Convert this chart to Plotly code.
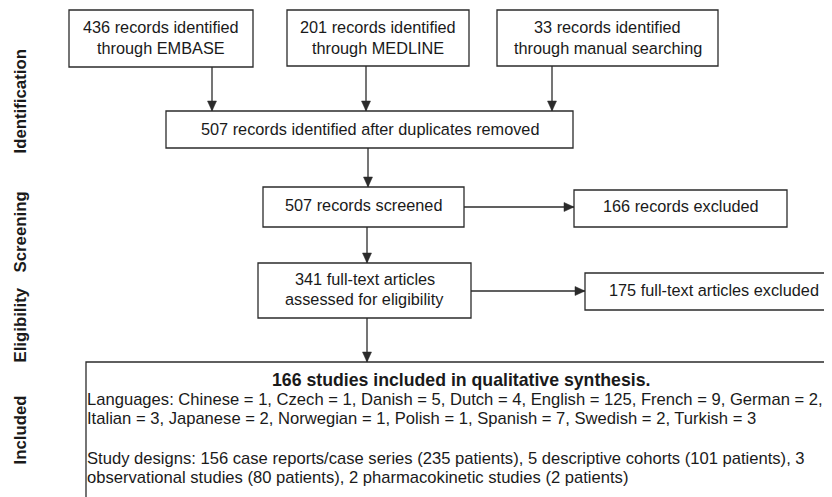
import plotly.graph_objects as go

# ---- content (data) ----
source_counts = [436, 201, 33]
source_names = ["EMBASE", "MEDLINE", "manual searching"]
after_dupes = 507
screened = 507
excluded_records = 166
fulltext_assessed = 341
fulltext_excluded = 175
included_studies = 166
languages = ["Chinese", "Czech", "Danish", "Dutch", "English", "French", "German",
             "Italian", "Japanese", "Norwegian", "Polish", "Spanish", "Swedish", "Turkish"]
language_counts = [1, 1, 5, 4, 125, 9, 2, 3, 2, 1, 1, 7, 2, 3]
stage_labels = ["Identification", "Screening", "Eligibility", "Included"]

# ---- layout geometry (positions, not data) ----
W, H = 832, 497
OFF = 8  # page body margin
FONT = "Liberation Sans, Arial, sans-serif"
LINE = "#2b2b2b"
TXT = "#1a1a1a"
BOXF = 16.3
BODYF = 16.6

fig = go.Figure()
shapes = []
annos = []

def box(x0, y0, x1, y1):
    shapes.append(dict(type="rect", xref="x", yref="y", x0=x0, y0=y0, x1=x1, y1=y1,
                       line=dict(color=LINE, width=1.3), fillcolor="rgba(0,0,0,0)"))

def text(x, y, s, size=BOXF, bold=False, anchor="center"):
    if bold:
        s = "<b>" + s + "</b>"
    annos.append(dict(x=x, y=y, xref="x", yref="y", text=s, showarrow=False,
                      xanchor=anchor, yanchor="middle",
                      font=dict(family=FONT, size=size, color=TXT)))

def arrow(x0, y0, x1, y1):
    shapes.append(dict(type="line", xref="x", yref="y", x0=x0, y0=y0, x1=x1, y1=y1,
                       line=dict(color=LINE, width=1.3)))
    L, hw = 10, 4.5
    if x0 == x1:  # vertical down
        p = f"M{x1-hw},{y1-L} L{x1+hw},{y1-L} L{x1},{y1} Z"
    else:  # horizontal right
        p = f"M{x1-L},{y1-hw} L{x1-L},{y1+hw} L{x1},{y1} Z"
    shapes.append(dict(type="path", xref="x", yref="y", path=p,
                       fillcolor=LINE, line=dict(color=LINE, width=0.5)))

# top source boxes
src_boxes = [(69, 10, 253, 67), (287, 10, 469, 66), (497, 10, 718, 66)]
src_arrow_x = [212, 366, 552]
for (x0, y0, x1, y1), n, name, ax in zip(src_boxes, source_counts, source_names, src_arrow_x):
    box(x0, y0, x1, y1)
    cx = (x0 + x1) / 2
    text(cx, 27, f"{n} records identified")
    text(cx, 48, f"through {name}")
    arrow(ax, y1, ax, 111)

# duplicates removed
box(166, 111, 573, 148)
text(369.5, 129, f"{after_dupes} records identified after duplicates removed")
arrow(368, 148, 368, 187)

# screened
box(263, 187, 464, 227)
text(363.5, 205, f"{screened} records screened")
arrow(464, 207, 574, 207)
box(574, 190, 787, 227)
text(681, 206, f"{excluded_records} records excluded")
arrow(367, 227, 367, 263)

# eligibility
box(258, 263, 471, 318)
text(364.5, 279, f"{fulltext_assessed} full-text articles")
text(364.5, 299, "assessed for eligibility")
arrow(471, 291, 585, 291)
box(585, 273, 845, 310)
text(714, 290, f"{fulltext_excluded} full-text articles excluded")
arrow(367, 318, 367, 362)

# included
box(86, 362, 845, 510)
text(461, 380, f"{included_studies} studies included in qualitative synthesis.", size=17.7, bold=True)
lang_items = [f"{l} = {c}" for l, c in zip(languages, language_counts)]
line1 = "Languages: " + ", ".join(lang_items[:7]) + ","
line2 = ", ".join(lang_items[7:])
text(85, 399, line1, size=BODYF, anchor="left")
text(85, 418, line2, size=BODYF, anchor="left")
text(85, 458, "Study designs: 156 case reports/case series (235 patients), 5 descriptive cohorts (101 patients), 3",
     size=BODYF, anchor="left")
text(85, 477, "observational studies (80 patients), 2 pharmacokinetic studies (2 patients)",
     size=BODYF, anchor="left")

# stage labels
for lab, cy in zip(stage_labels, [102, 232, 325, 430]):
    annos.append(dict(x=19.5, y=cy, xref="x", yref="y", text=f"<b>{lab}</b>", showarrow=False,
                      textangle=-90, xanchor="center", yanchor="middle",
                      font=dict(family=FONT, size=16.8, color=TXT)))

fig.update_layout(
    width=W, height=H, margin=dict(l=0, r=0, t=0, b=0),
    paper_bgcolor="white", plot_bgcolor="white",
    xaxis=dict(range=[OFF, W + OFF], visible=False, fixedrange=True),
    yaxis=dict(range=[H + OFF, OFF], visible=False, fixedrange=True),
    shapes=shapes, annotations=annos, showlegend=False,
)
fig.write_html("out.html")
